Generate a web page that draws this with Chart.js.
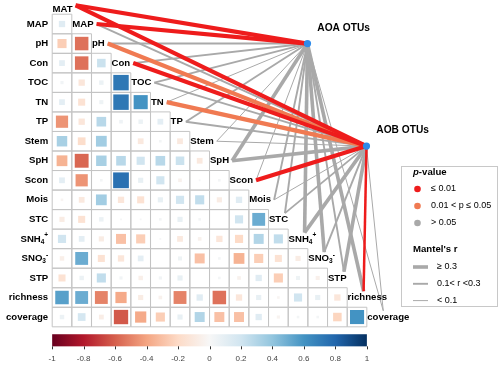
<!DOCTYPE html>
<html>
<head>
<meta charset="utf-8">
<script src="https://cdn.jsdelivr.net/npm/chart.js@4.4.0/dist/chart.umd.min.js"></script>
<style>
  html, body { margin: 0; padding: 0; background: #fff; }
  #wrap { width: 500px; height: 369px; }
</style>
</head>
<body>
<div id="wrap"><canvas id="chart" width="500" height="369"></canvas></div>
<script>
// variables on the diagonal (row/column order)
const variables = ['MAT', 'MAP', 'pH', 'Con', 'TOC', 'TN', 'TP', 'Stem', 'SpH', 'Scon',
  'Mois', 'STC', 'SNH4+', 'SNO3-', 'STP', 'richness', 'coverage'];

// lower triangle of the correlation matrix, row i holds r with columns 0..i-1
const corrRows = [
  [],
  [0.12],
  [-0.25, -0.55],
  [0.10, -0.55, 0.22],
  [0.03, -0.12, 0.06, 0.72],
  [0.10, -0.15, 0.05, 0.72, 0.60],
  [-0.45, -0.12, 0.28, 0.04, 0.06, 0.10],
  [0.33, -0.18, 0.35, 0, -0.10, 0.02, -0.10],
  [-0.35, -0.58, 0.33, 0.28, 0.20, 0.28, 0.22, -0.10],
  [0.10, -0.45, 0.02, 0.75, 0.08, 0.20, -0.04, 0.01, 0.02],
  [-0.02, -0.10, 0.35, -0.12, -0.15, 0.08, 0.20, 0.25, -0.08, 0.12],
  [-0.08, -0.15, 0.06, 0.01, 0.01, 0.02, 0.08, 0.02, 0, 0.20, 0.50],
  [0.20, 0.10, -0.08, -0.30, -0.25, 0.01, -0.10, -0.04, -0.12, -0.20, 0.30, 0.25],
  [-0.06, 0.50, -0.15, -0.12, 0.10, 0, 0.05, -0.30, 0.02, -0.35, -0.25, -0.15, -0.08],
  [-0.15, 0.06, 0.25, 0.03, -0.06, 0.03, 0.08, 0, 0.02, -0.04, 0.12, -0.25, 0.05, -0.05],
  [0.55, 0.50, -0.50, -0.38, -0.08, -0.04, -0.50, 0.12, -0.55, -0.12, 0.08, -0.02, 0.20, 0.08, -0.12],
  [0.06, 0.18, -0.07, -0.62, -0.38, -0.25, 0.08, 0.30, -0.30, -0.30, 0.12, -0.03, 0.02, 0.02, -0.22, 0.60]
];

// Mantel test nodes and results (one value per variable)
const nodeNames = ['AOA OTUs', 'AOB OTUs'];
const nodeX = [12.48, 15.48];
const nodeY = [2.0, 7.25];
const aoaMantelR = [0.45, 0.40, 0.15, 0.15, 0.15, 0.05, 0.15, 0.05, 0.32, 0.05, 0.15, 0.15, 0.32, 0.32, 0.15, 0.30, 0.06];
const aoaMantelP = [0.001, 0.001, 0.20, 0.20, 0.30, 0.50, 0.20, 0.60, 0.08, 0.50, 0.30, 0.30, 0.07, 0.08, 0.20, 0.10, 0.50];
const aobMantelR = [0.42, 0.15, 0.32, 0.35, 0.15, 0.33, 0.15, 0.05, 0.32, 0.38, 0.05, 0.15, 0.32, 0.15, 0.32, 0.20, 0.05];
const aobMantelP = [0.001, 0.20, 0.03, 0.001, 0.20, 0.02, 0.20, 0.50, 0.07, 0.001, 0.50, 0.30, 0.06, 0.30, 0.08, 0.005, 0.50];

// colour bar
const colorbarTicks = [-1, -0.8, -0.6, -0.4, -0.2, 0, 0.2, 0.4, 0.6, 0.8, 1];
const colorbarLabels = ['-1', '-0.8', '-0.6', '-0.4', '-0.2', '0', '0.2', '0.4', '0.6', '0.8', '1'];

// ---- styling ----
const RDBU = ['#67001F', '#B2182B', '#D6604D', '#F4A582', '#FDDBC7', '#F7F7F7',
  '#D1E5F0', '#92C5DE', '#4393C3', '#2166AC', '#053061'];
const CELL = 19.6;          // px size of a grid cell
const FONT = '"Liberation Sans", Arial, sans-serif';
const LABEL_SIZE = 9.6;
const nCols = variables.length - 1;
const X_MIN = -3.152, X_MAX = 22.268, Y_MIN = -0.23, Y_MAX = 18.66;
const PX_X = 500 / (X_MAX - X_MIN), PX_Y = 369 / (Y_MAX - Y_MIN);

function hexToRgb(h) {
  return [parseInt(h.slice(1, 3), 16), parseInt(h.slice(3, 5), 16), parseInt(h.slice(5, 7), 16)];
}
function rdbu(v) {
  const t = Math.max(0, Math.min(1, (v + 1) / 2)) * (RDBU.length - 1);
  const i = Math.min(RDBU.length - 2, Math.floor(t));
  const f = t - i;
  const a = hexToRgb(RDBU[i]), b = hexToRgb(RDBU[i + 1]);
  const c = a.map((x, k) => Math.round(x + (b[k] - x) * f));
  return `rgb(${c[0]},${c[1]},${c[2]})`;
}
function pColor(p) {
  if (p <= 0.01) return '#EE1C1C';
  if (p <= 0.05) return '#F07A52';
  return '#A9A9A9';
}
function rWidth(r) {
  if (r >= 0.3) return 3.6;
  if (r >= 0.1) return 1.9;
  return 1;
}
function labelY(i) { return i === 0 ? 0.26 : i; }
function labelX(i) { return i - 0.48; }

// width of a diagonal label in px
const measureCtx = document.createElement('canvas').getContext('2d');
function nameWidth(name) {
  const m = name.match(/^(.*?)(\d)([+-])$/);
  measureCtx.font = `bold ${LABEL_SIZE}px ${FONT}`;
  if (!m) return measureCtx.measureText(name).width;
  const w1 = measureCtx.measureText(m[1]).width;
  measureCtx.font = `bold ${LABEL_SIZE * 0.68}px ${FONT}`;
  return w1 + measureCtx.measureText(m[2] + m[3]).width;
}
// where the Mantel lines meet a label
function anchor(i) {
  const w = nameWidth(variables[i]);
  if (i <= 10) {
    return { x: labelX(i) + (w + 3) / PX_X, y: labelY(i) - (i === 0 ? 0.22 : 0) };
  }
  return { x: labelX(i) + Math.min(w + 2, 16) / PX_X, y: labelY(i) - 0.32 };
}

// ---- datasets ----
const cellData = [];
const squareData = [];
corrRows.forEach((row, r) => {
  row.forEach((v, c) => {
    cellData.push({ x: c, y: r });
    squareData.push({ x: c, y: r, v: v });
  });
});

const lineSets = [];
[[aoaMantelR, aoaMantelP], [aobMantelR, aobMantelP]].forEach(([rs, ps], n) => {
  variables.forEach((name, i) => {
    const p = ps[i];
    lineSets.push({
      type: 'scatter',
      showLine: true,
      data: [{ x: nodeX[n], y: nodeY[n] }, anchor(i)],
      borderColor: pColor(p),
      borderWidth: rWidth(rs[i]) + (p <= 0.05 ? 0.6 : 0),
      pointRadius: 0,
      order: p <= 0.01 ? 1 : (p <= 0.05 ? 2 : 3)
    });
  });
});

const datasets = [
  {
    data: cellData,
    pointStyle: 'rect',
    pointRadius: CELL / Math.SQRT2,
    backgroundColor: 'rgba(0,0,0,0)',
    borderColor: '#C4C4C4',
    borderWidth: 1,
    order: 6
  },
  {
    data: squareData,
    pointStyle: 'rect',
    pointRadius: ctx => Math.sqrt(Math.abs(ctx.raw.v)) * 18.2 / Math.SQRT2,
    backgroundColor: ctx => rdbu(ctx.raw.v),
    borderWidth: 0,
    order: 5
  },
  ...lineSets,
  {
    data: nodeX.map((x, i) => ({ x: x, y: nodeY[i] })),
    pointStyle: 'circle',
    pointRadius: 3.6,
    backgroundColor: '#2E8BEA',
    borderWidth: 0,
    order: 0
  }
];

// draw a label, SNH4+ style names get subscript and superscript
function drawName(ctx, name, x, y, align, size) {
  const m = name.match(/^(.*?)(\d)([+-])$/);
  const big = `bold ${size}px ${FONT}`;
  const small = `bold ${size * 0.68}px ${FONT}`;
  ctx.textBaseline = 'middle';
  if (!m) {
    ctx.font = big;
    ctx.textAlign = align;
    ctx.fillText(name, x, y);
    return;
  }
  ctx.font = big;
  const w1 = ctx.measureText(m[1]).width;
  ctx.font = small;
  const w2 = ctx.measureText(m[2]).width;
  const w3 = ctx.measureText(m[3]).width;
  const total = w1 + w2 + w3;
  let x0 = align === 'right' ? x - total : x;
  ctx.textAlign = 'left';
  ctx.font = big;
  ctx.fillText(m[1], x0, y);
  ctx.font = small;
  ctx.fillText(m[2], x0 + w1, y + size * 0.3);
  ctx.fillText(m[3], x0 + w1 + w2, y - size * 0.35);
}

const decorPlugin = {
  id: 'decor',
  afterDatasetsDraw(chart) {
    const ctx = chart.ctx;
    const xs = chart.scales.x, ys = chart.scales.y;
    ctx.save();
    ctx.fillStyle = '#000';

    // row labels on the left
    variables.forEach((name, i) => {
      if (i === 0) return;
      drawName(ctx, name, xs.getPixelForValue(-0.5) - 4, ys.getPixelForValue(i), 'right', LABEL_SIZE);
    });
    // labels on the diagonal
    variables.forEach((name, i) => {
      drawName(ctx, name, xs.getPixelForValue(labelX(i)), ys.getPixelForValue(labelY(i)), 'left', LABEL_SIZE);
    });
    // node labels
    nodeNames.forEach((name, i) => {
      ctx.font = `bold 10.2px ${FONT}`;
      ctx.textAlign = 'left';
      ctx.textBaseline = 'middle';
      ctx.fillText(name, xs.getPixelForValue(nodeX[i] + 0.5), ys.getPixelForValue(nodeY[i] - 0.8));
    });

    // colour bar
    const cbX = t => xs.getPixelForValue(-0.5 + (t + 1) * nCols / 2);
    const x0 = cbX(-1), x1 = cbX(1);
    const yT = ys.getPixelForValue(16.88), yB = ys.getPixelForValue(17.5);
    const grad = ctx.createLinearGradient(x0, 0, x1, 0);
    RDBU.forEach((c, k) => grad.addColorStop(k / (RDBU.length - 1), c));
    ctx.fillStyle = grad;
    ctx.fillRect(x0, yT, x1 - x0, yB - yT);
    ctx.strokeStyle = '#333';
    ctx.lineWidth = 1;
    ctx.font = `8px ${FONT}`;
    ctx.fillStyle = '#444';
    ctx.textAlign = 'center';
    ctx.textBaseline = 'middle';
    colorbarTicks.forEach((t, k) => {
      const px = Math.round(cbX(t)) + 0.5;
      ctx.beginPath();
      ctx.moveTo(px, yB);
      ctx.lineTo(px, yB + 3);
      ctx.stroke();
      ctx.fillText(colorbarLabels[k], cbX(t), ys.getPixelForValue(18.15));
    });

    // legend box
    ctx.strokeStyle = '#C8C8C8';
    ctx.strokeRect(401.5, 166.5, 96, 140);
    ctx.fillStyle = '#000';
    ctx.textAlign = 'left';
    ctx.font = `bold italic 9.6px ${FONT}`;
    ctx.fillText('p', 413, 172);
    const pw = ctx.measureText('p').width;
    ctx.font = `bold 9.6px ${FONT}`;
    ctx.fillText('-value', 413 + pw, 172);
    const pItems = [[0.001, '\u2264 0.01'], [0.03, '0.01 < p \u2264 0.05'], [0.5, '> 0.05']];
    pItems.forEach(([p, txt], k) => {
      const y = 189 + k * 17;
      ctx.fillStyle = pColor(p);
      ctx.beginPath();
      ctx.arc(417.5, y, 3.3, 0, Math.PI * 2);
      ctx.fill();
      ctx.fillStyle = '#000';
      ctx.font = `9px ${FONT}`;
      ctx.fillText(txt, 431, y);
    });
    ctx.font = `bold 9.6px ${FONT}`;
    ctx.fillText("Mantel's r", 413, 249);
    const rItems = [[0.4, '\u2265 0.3'], [0.2, '0.1< r <0.3'], [0.05, '< 0.1']];
    rItems.forEach(([r, txt], k) => {
      const y = 267 + k * 16.8;
      ctx.strokeStyle = '#A9A9A9';
      ctx.lineWidth = rWidth(r);
      ctx.beginPath();
      ctx.moveTo(413, y);
      ctx.lineTo(428, y);
      ctx.stroke();
      ctx.fillStyle = '#000';
      ctx.font = `9px ${FONT}`;
      ctx.fillText(txt, 437, y);
    });
    ctx.restore();
  }
};

new Chart(document.getElementById('chart'), {
  type: 'scatter',
  data: { datasets: datasets },
  options: {
    responsive: false,
    devicePixelRatio: 1,
    animation: false,
    events: [],
    layout: { padding: 0, autoPadding: false },
    plugins: { legend: { display: false }, tooltip: { enabled: false } },
    scales: {
      x: { type: 'linear', display: false, min: X_MIN, max: X_MAX },
      y: { type: 'linear', display: false, reverse: true, min: Y_MIN, max: Y_MAX }
    }
  },
  plugins: [decorPlugin]
});
</script>
</body>
</html>
